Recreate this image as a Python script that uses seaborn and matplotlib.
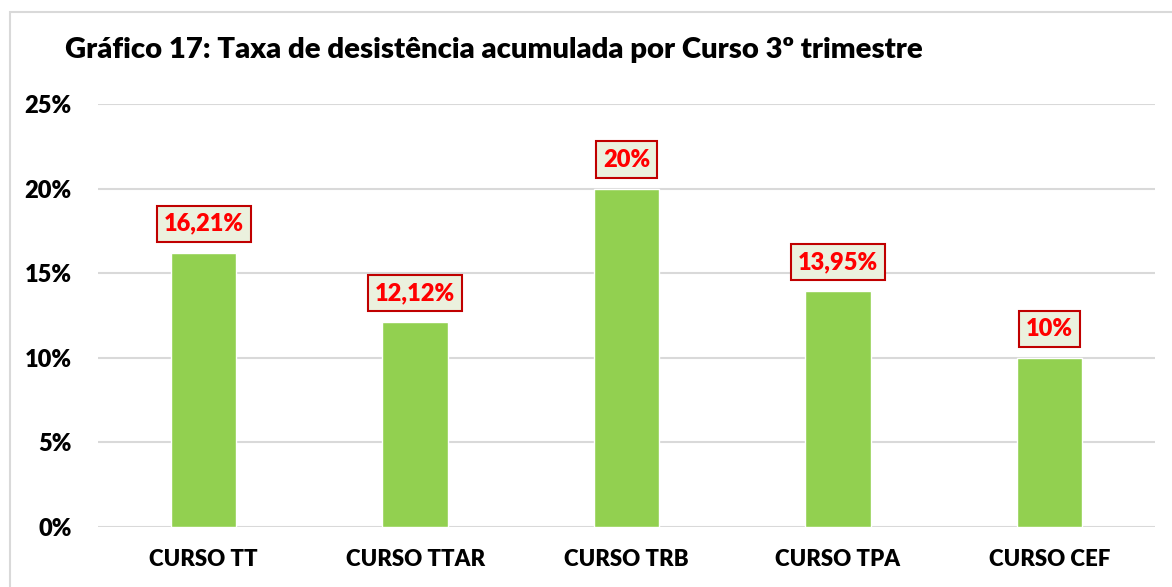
import matplotlib
matplotlib.use("Agg")
import matplotlib.pyplot as plt
import seaborn as sns
import pandas as pd
from matplotlib.patches import Rectangle
from matplotlib.ticker import FuncFormatter, MultipleLocator

cursos = ["CURSO TT", "CURSO TTAR", "CURSO TRB", "CURSO TPA", "CURSO CEF"]
taxas = [16.21, 12.12, 20.0, 13.95, 10.0]
rotulos = ["16,21%", "12,12%", "20%", "13,95%", "10%"]
titulo = "Gráfico 17: Taxa de desistência acumulada por Curso 3º trimestre"

sns.set_theme(style="white")
plt.rcParams["font.family"] = ["Lato", "DejaVu Sans"]

df = pd.DataFrame({"curso": cursos, "taxa": taxas})

fig = plt.figure(figsize=(11.72, 5.87), dpi=100)
fig.patch.set_facecolor("white")
fig.patches.append(Rectangle((10 / 1172, -0.05), 1.2, 1 - 12 / 587 + 0.05,
                             transform=fig.transFigure, fill=False,
                             edgecolor="#d9d9d9", linewidth=1.5, zorder=0))
ax = fig.add_axes([98 / 1172, 60 / 587, 1057 / 1172, 423 / 587])
sns.barplot(data=df, x="curso", y="taxa", color="#92D050", width=0.31,
            saturation=1, ax=ax, zorder=3)
ax.set_xlim(-0.5, 4.5)
ax.set_ylim(0, 25)
ax.yaxis.set_major_locator(MultipleLocator(5))
ax.yaxis.set_major_formatter(FuncFormatter(lambda v, p: f"{v:.0f}%"))
ax.grid(axis="y", color="#d9d9d9", linewidth=1.5, zorder=0)
ax.set_axisbelow(True)
for s in ax.spines.values():
    s.set_visible(False)
ax.set_xlabel("")
ax.set_ylabel("")
ax.tick_params(axis="x", length=0, labelsize=16, colors="black", pad=16)
ax.tick_params(axis="y", length=0, labelsize=17, colors="black", pad=19)
for lab in ax.get_xticklabels() + ax.get_yticklabels():
    lab.set_fontweight("heavy")

for i, (v, t) in enumerate(zip(taxas, rotulos)):
    ax.annotate(t, (i, v), xytext=(0, 13), textcoords="offset points",
                ha="center", va="bottom", color="#FF0000", fontsize=17,
                fontweight="heavy",
                bbox=dict(boxstyle="square,pad=0.3", facecolor="#EBF1DE",
                          edgecolor="#C00000", linewidth=1.5), zorder=5)

fig.text(65 / 1172, 1 - 50 / 587, titulo, fontsize=21.1, fontweight="heavy",
         ha="left", va="center", color="black")

fig.savefig("out.png", dpi=100, facecolor="white")
